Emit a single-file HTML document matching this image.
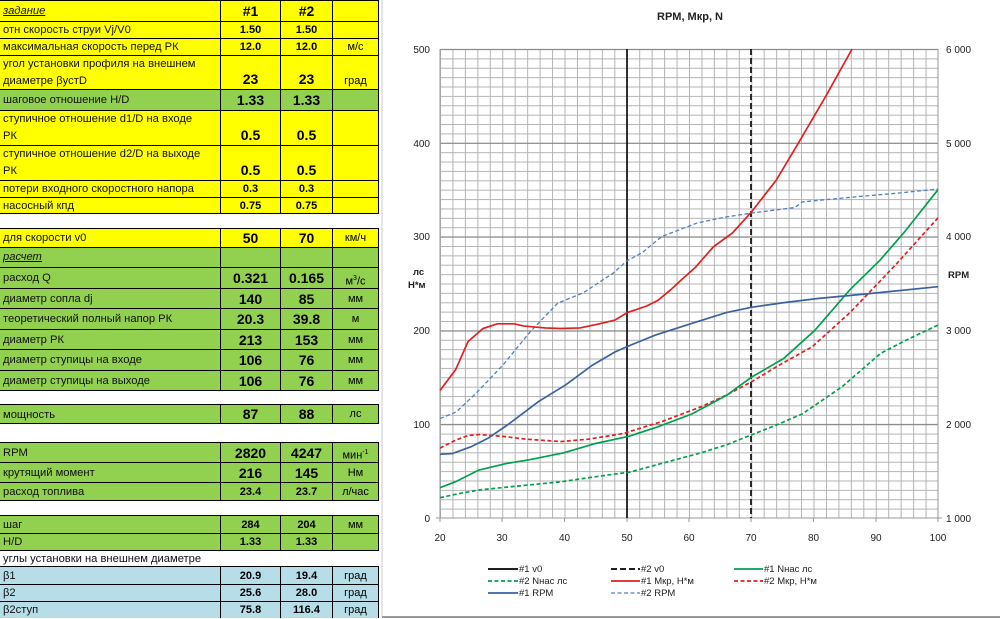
<!DOCTYPE html>
<html><head><meta charset="utf-8">
<style>
html,body{margin:0;padding:0;background:#fff;}
body{width:1000px;height:618px;position:relative;overflow:hidden;font-family:"Liberation Sans","DejaVu Sans",sans-serif;}
.r{position:absolute;left:0;width:379px;box-sizing:border-box;border-top:1px solid #000;}
.c{position:absolute;top:0;bottom:0;box-sizing:border-box;border-right:1px solid #000;}
.l{left:0;width:221px;font-size:11.2px;color:#111;padding-left:3px;line-height:17px;}
.v1{left:221px;width:60px;text-align:center;font-weight:bold;}
.v2{left:281px;width:52px;text-align:center;font-weight:bold;}
.u{left:333px;width:46px;text-align:center;font-size:11px;}
.Y{background:#ffff00}.G{background:#92d050}.B{background:#b7dee8}.W{background:#fff;border-top:1px solid #000}
.big{font-size:14px}.sm{font-size:11px}
.bot{position:absolute;left:0;right:0;bottom:2px}
.iu{font-style:italic;text-decoration:underline}
</style></head><body>

<div class="r Y" style="top:0;height:21px"><div class="c l iu" style="line-height:20px">задание</div><div class="c v1 big" style="line-height:21px">#1</div><div class="c v2 big" style="line-height:21px">#2</div><div class="c u"></div></div>
<div class="r Y" style="top:21px;height:17px"><div class="c l">отн скорость струи Vj/V0</div><div class="c v1 sm" style="line-height:17px">1.50</div><div class="c v2 sm" style="line-height:17px">1.50</div><div class="c u"></div></div>
<div class="r Y" style="top:38px;height:17px"><div class="c l">максимальная скорость перед РК</div><div class="c v1 sm" style="line-height:17px">12.0</div><div class="c v2 sm" style="line-height:17px">12.0</div><div class="c u" style="line-height:17px">м/с</div></div>
<div class="r Y" style="top:55px;height:34px"><div class="c l">угол установки профиля на внешнем<br>диаметре βустD</div><div class="c v1 big"><div class="bot">23</div></div><div class="c v2 big"><div class="bot">23</div></div><div class="c u"><div class="bot">град</div></div></div>
<div class="r G" style="top:89px;height:21px"><div class="c l" style="line-height:20px">шаговое отношение H/D</div><div class="c v1 big" style="line-height:21px">1.33</div><div class="c v2 big" style="line-height:21px">1.33</div><div class="c u"></div></div>
<div class="r Y" style="top:110px;height:35px"><div class="c l">ступичное отношение d1/D на входе<br>РК</div><div class="c v1 big"><div class="bot">0.5</div></div><div class="c v2 big"><div class="bot">0.5</div></div><div class="c u"></div></div>
<div class="r Y" style="top:145px;height:35px"><div class="c l">ступичное отношение d2/D на выходе<br>РК</div><div class="c v1 big"><div class="bot">0.5</div></div><div class="c v2 big"><div class="bot">0.5</div></div><div class="c u"></div></div>
<div class="r Y" style="top:180px;height:17px"><div class="c l">потери входного скоростного напора</div><div class="c v1 sm" style="line-height:17px">0.3</div><div class="c v2 sm" style="line-height:17px">0.3</div><div class="c u"></div></div>
<div class="r Y" style="top:197px;height:17px;border-bottom:1px solid #000"><div class="c l">насосный кпд</div><div class="c v1 sm" style="line-height:16px">0.75</div><div class="c v2 sm" style="line-height:16px">0.75</div><div class="c u"></div></div>
<div class="r Y" style="top:228px;height:19px"><div class="c l" style="line-height:19px">для скорости v0</div><div class="c v1 big" style="line-height:19px">50</div><div class="c v2 big" style="line-height:19px">70</div><div class="c u" style="line-height:19px">км/ч</div></div>
<div class="r G" style="top:247px;height:20px"><div class="c l iu" style="line-height:19px">расчет</div><div class="c v1"></div><div class="c v2"></div><div class="c u"></div></div>
<div class="r G" style="top:267px;height:21px"><div class="c l" style="line-height:21px">расход Q</div><div class="c v1 big" style="line-height:21px">0.321</div><div class="c v2 big" style="line-height:21px">0.165</div><div class="c u" style="line-height:21px">м<sup style="font-size:7px">3</sup>/с</div></div>
<div class="r G" style="top:288px;height:20px"><div class="c l" style="line-height:20px">диаметр сопла dj</div><div class="c v1 big" style="line-height:20px">140</div><div class="c v2 big" style="line-height:20px">85</div><div class="c u" style="line-height:20px">мм</div></div>
<div class="r G" style="top:308px;height:21px"><div class="c l" style="line-height:21px">теоретический полный напор РК</div><div class="c v1 big" style="line-height:21px">20.3</div><div class="c v2 big" style="line-height:21px">39.8</div><div class="c u" style="line-height:21px">м</div></div>
<div class="r G" style="top:329px;height:20px"><div class="c l" style="line-height:20px">диаметр РК</div><div class="c v1 big" style="line-height:20px">213</div><div class="c v2 big" style="line-height:20px">153</div><div class="c u" style="line-height:20px">мм</div></div>
<div class="r G" style="top:349px;height:21px"><div class="c l" style="line-height:21px">диаметр ступицы на входе</div><div class="c v1 big" style="line-height:21px">106</div><div class="c v2 big" style="line-height:21px">76</div><div class="c u" style="line-height:21px">мм</div></div>
<div class="r G" style="top:370px;height:21px;border-bottom:1px solid #000"><div class="c l" style="line-height:20px">диаметр ступицы на выходе</div><div class="c v1 big" style="line-height:20px">106</div><div class="c v2 big" style="line-height:20px">76</div><div class="c u" style="line-height:20px">мм</div></div>
<div class="r G" style="top:404px;height:20px;border-bottom:1px solid #000"><div class="c l" style="line-height:20px">мощность</div><div class="c v1 big" style="line-height:19px">87</div><div class="c v2 big" style="line-height:19px">88</div><div class="c u" style="line-height:19px">лс</div></div>
<div class="r G" style="top:442px;height:20px"><div class="c l" style="line-height:20px">RPM</div><div class="c v1 big" style="line-height:20px">2820</div><div class="c v2 big" style="line-height:20px">4247</div><div class="c u" style="line-height:20px">мин<sup style="font-size:7px">-1</sup></div></div>
<div class="r G" style="top:462px;height:20px"><div class="c l" style="line-height:20px">крутящий момент</div><div class="c v1 big" style="line-height:20px">216</div><div class="c v2 big" style="line-height:20px">145</div><div class="c u" style="line-height:20px">Нм</div></div>
<div class="r G" style="top:482px;height:19px;border-bottom:1px solid #000"><div class="c l" style="line-height:18px">расход топлива</div><div class="c v1 sm" style="line-height:18px">23.4</div><div class="c v2 sm" style="line-height:18px">23.7</div><div class="c u" style="line-height:18px">л/час</div></div>
<div class="r G" style="top:515px;height:18px"><div class="c l" style="line-height:18px">шаг</div><div class="c v1 sm" style="line-height:18px">284</div><div class="c v2 sm" style="line-height:18px">204</div><div class="c u" style="line-height:18px">мм</div></div>
<div class="r G" style="top:533px;height:17px"><div class="c l" style="line-height:17px">H/D</div><div class="c v1 sm" style="line-height:17px">1.33</div><div class="c v2 sm" style="line-height:17px">1.33</div><div class="c u"></div></div>
<div class="r" style="top:550px;height:16px;background:#fff"><div class="c l" style="line-height:16px;border-right:none;width:300px">углы установки на внешнем диаметре</div></div>
<div class="r B" style="top:566px;height:18px"><div class="c l" style="line-height:18px">β1</div><div class="c v1 sm" style="line-height:18px">20.9</div><div class="c v2 sm" style="line-height:18px">19.4</div><div class="c u" style="line-height:18px">град</div></div>
<div class="r B" style="top:584px;height:17px"><div class="c l" style="line-height:17px">β2</div><div class="c v1 sm" style="line-height:17px">25.6</div><div class="c v2 sm" style="line-height:17px">28.0</div><div class="c u" style="line-height:17px">град</div></div>
<div class="r B" style="top:601px;height:17px"><div class="c l" style="line-height:17px">β2ступ</div><div class="c v1 sm" style="line-height:17px">75.8</div><div class="c v2 sm" style="line-height:17px">116.4</div><div class="c u" style="line-height:17px">град</div></div>

<svg style="position:absolute;left:0;top:0" width="1000" height="618" viewBox="0 0 1000 618" font-family="Liberation Sans, DejaVu Sans, sans-serif">
<defs>
<pattern id="g" patternUnits="userSpaceOnUse" x="440" y="49" width="12.45" height="9.38">
<line x1="0.5" y1="0" x2="0.5" y2="9.38" stroke="#b4b4b4" stroke-width="1"/>
<line x1="0" y1="0.5" x2="12.45" y2="0.5" stroke="#b4b4b4" stroke-width="1"/>
</pattern>
</defs>
<line x1="382" y1="0" x2="382" y2="618" stroke="#ccc"/>
<line x1="382" y1="617" x2="1000" y2="617" stroke="#999" stroke-width="2"/>
<text x="690" y="20" font-size="11" font-weight="bold" text-anchor="middle" fill="#222">RPM, Мкр, N</text>
<rect x="440" y="49" width="498" height="469" fill="url(#g)"/>
<g stroke="#8c8c8c" stroke-width="1.2">
<line x1="440" y1="49.5" x2="938" y2="49.5"/><line x1="440" y1="143.3" x2="938" y2="143.3"/><line x1="440" y1="237" x2="938" y2="237"/><line x1="440" y1="331" x2="938" y2="331"/><line x1="440" y1="424.5" x2="938" y2="424.5"/>
</g>
<g stroke="#999" stroke-width="1">
<line x1="440" y1="49" x2="440" y2="522"/><line x1="938" y1="49" x2="938" y2="522"/><line x1="436" y1="518" x2="942" y2="518"/>
<line x1="502" y1="518" x2="502" y2="522"/><line x1="564.5" y1="518" x2="564.5" y2="522"/><line x1="627" y1="518" x2="627" y2="522"/><line x1="689" y1="518" x2="689" y2="522"/><line x1="751" y1="518" x2="751" y2="522"/><line x1="813.5" y1="518" x2="813.5" y2="522"/><line x1="876" y1="518" x2="876" y2="522"/>
</g>
<g font-size="10" fill="#222" text-anchor="end">
<text x="430" y="53">500</text><text x="430" y="147">400</text><text x="430" y="240">300</text><text x="430" y="334">200</text><text x="430" y="428">100</text><text x="430" y="522">0</text>
</g>
<g font-size="10" fill="#222">
<text x="946" y="53">6 000</text><text x="946" y="147">5 000</text><text x="946" y="240">4 000</text><text x="946" y="334">3 000</text><text x="946" y="428">2 000</text><text x="946" y="522">1 000</text>
</g>
<g font-size="10" fill="#222" text-anchor="middle">
<text x="440" y="541">20</text><text x="502" y="541">30</text><text x="564.5" y="541">40</text><text x="627" y="541">50</text><text x="689" y="541">60</text><text x="751" y="541">70</text><text x="813.5" y="541">80</text><text x="876" y="541">90</text><text x="938" y="541">100</text>
</g>
<g font-size="9.5" font-weight="bold" fill="#222">
<text x="413" y="275">лс</text><text x="408" y="288">Н*м</text><text x="948" y="278">RPM</text>
</g>
<line x1="627" y1="49" x2="627" y2="518" stroke="#000" stroke-width="1.6"/>
<line x1="751" y1="49" x2="751" y2="518" stroke="#000" stroke-width="1.6" stroke-dasharray="6,3"/>
<g fill="none" stroke-width="1.7" transform="translate(440,518) scale(6.225,-0.938) translate(-20,0)">
<polyline vector-effect="non-scaling-stroke" stroke="#4f81bd" stroke-dasharray="4,2.5" stroke-width="1.3" points="20,106 22.6,113 25.8,133 30.1,163 34.5,198.6 38.9,229 43,240 47.8,261 50,274 52.5,283 55.6,300 61.3,314.5 66,321 70,325 77,331 78.2,337 86.9,342.5 93,346 100,350.7"/>
<polyline vector-effect="non-scaling-stroke" stroke="#00a050" stroke-dasharray="4,2.5" points="20,21.7 23,26 26.4,30 33.9,35 39.4,38.6 46.9,45.8 50.5,48.9 55.5,58 62,69.6 66,78 70,88.5 74,99 78.2,111 84.6,140 90.8,175.6 95,190 100,205.7"/>
<polyline vector-effect="non-scaling-stroke" stroke="#e02020" stroke-dasharray="4,2.5" points="20,74.5 22.5,83 24.5,88 26.4,89 30.1,87 33.9,84 39.4,81.5 43.8,84 49.4,90 55.7,103 62,118.7 66,131 70,145 74.5,163 79.8,182.6 85.7,218 88.9,240 93.2,270 100,320"/>
<polyline vector-effect="non-scaling-stroke" stroke="#00a050" points="20,32.3 22.5,38.7 26.2,51 30.6,58 34.3,62 39.9,69.5 44.9,79.3 50.5,87.4 54.9,97 60.5,111 66.1,131 70,150 75.2,170 80.2,200 85.8,243 90.7,275 94.5,304 100,350"/>
<polyline vector-effect="non-scaling-stroke" stroke="#3a62a0" points="20,68 22,68.7 25,76 27.7,85 30.8,99 35.8,124 40.2,142 44.5,163 48.1,177 50,182.6 54.6,195 60.5,207.5 66,219 70,224.6 75.1,229.5 80.7,234 89.4,239.5 100,246.6"/>
<polyline vector-effect="non-scaling-stroke" stroke="#e02020" points="20,136 22.5,158 24.5,188 26.9,202 29.2,207 31.9,207 33.5,204.6 36.9,202.6 39.4,202 42.5,202.6 45.6,207 48.1,211 50.1,219 53.2,226 55,232 57,243 58.8,254 61,267 63.9,289 67,304 70,326 74,360 77.6,400 82,450 86.2,500"/>
</g>
<g stroke-width="1.7" fill="none">
<line x1="488" y1="569" x2="518" y2="569" stroke="#000"/>
<line x1="611" y1="569" x2="640" y2="569" stroke="#000" stroke-dasharray="6,3"/>
<line x1="734" y1="569" x2="763" y2="569" stroke="#00a050"/>
<line x1="488" y1="581" x2="518" y2="581" stroke="#00a050" stroke-dasharray="4,2.5"/>
<line x1="611" y1="581" x2="640" y2="581" stroke="#e02020"/>
<line x1="734" y1="581" x2="763" y2="581" stroke="#e02020" stroke-dasharray="4,2.5"/>
<line x1="488" y1="593" x2="518" y2="593" stroke="#3a62a0"/>
<line x1="611" y1="593" x2="640" y2="593" stroke="#4f81bd" stroke-dasharray="4,2.5" stroke-width="1.3"/>
</g>
<g font-size="9.5" fill="#222">
<text x="519" y="572">#1 v0</text><text x="641" y="572">#2 v0</text><text x="764" y="572">#1 Nнас лс</text>
<text x="519" y="584">#2 Nнас лс</text><text x="641" y="584">#1 Мкр, Н*м</text><text x="764" y="584">#2 Мкр, Н*м</text>
<text x="519" y="596">#1 RPM</text><text x="641" y="596">#2 RPM</text>
</g>
</svg>
</body></html>
